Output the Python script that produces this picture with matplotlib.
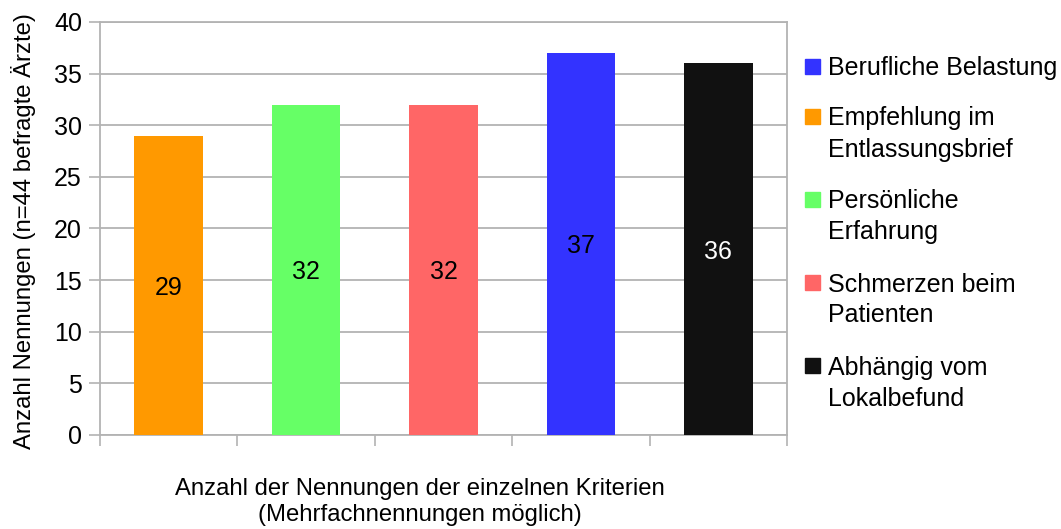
import numpy as np
import matplotlib.pyplot as plt
from matplotlib.patches import Rectangle

plt.rcParams['font.family'] = ['Liberation Sans', 'DejaVu Sans']

# Kriterien (Reihenfolge der Balken) und Anzahl der Nennungen
kriterien = ['Empfehlung im\nEntlassungsbrief', 'Persönliche\nErfahrung',
             'Schmerzen beim\nPatienten', 'Berufliche Belastung',
             'Abhängig vom\nLokalbefund']
nennungen = [29, 32, 32, 37, 36]
farben = ['#ff9900', '#66ff66', '#ff6666', '#3333ff', '#111111']
text_farben = ['black', 'black', 'black', 'black', 'white']

# Reihenfolge in der Legende
legenden_reihenfolge = [3, 0, 1, 2, 4]

y_ticks = [0, 5, 10, 15, 20, 25, 30, 35, 40]

W, H = 1061, 529
fs = 18
fs_label = 17.2
grau = '#b3b3b3'

fig = plt.figure(figsize=(W / 100, H / 100), dpi=100)
ax = fig.add_axes([100 / W, 1 - 435 / H, 687 / W, 413 / H])

x = np.arange(len(nennungen))
bars = ax.bar(x, nennungen, width=0.5, color=farben, zorder=3)

for b, v, tc in zip(bars, nennungen, text_farben):
    ax.text(b.get_x() + b.get_width() / 2, v / 2, str(v), ha='center',
            va='center_baseline', fontsize=fs, color=tc, zorder=4)

ax.set_xlim(-0.5, len(nennungen) - 0.5)
ax.set_ylim(0, 40)
ax.set_yticks(y_ticks)
ax.set_xticks(np.arange(len(nennungen) + 1) - 0.5)
ax.set_xticklabels([])
ax.tick_params(axis='y', labelsize=fs, length=8, width=1.2, color=grau, pad=5)
ax.tick_params(axis='x', length=8, width=1.2, color=grau)
ax.yaxis.grid(True, color=grau, linewidth=1.3, zorder=0)
for s in ax.spines.values():
    s.set_color(grau)
    s.set_linewidth(1.3)

fig.text(24 / W, 1 - 231 / H, 'Anzahl Nennungen (n=44 befragte Ärzte)',
         rotation=90, ha='center', va='center', fontsize=fs_label)
fig.text(420 / W, 1 - 502 / H,
         'Anzahl der Nennungen der einzelnen Kriterien\n(Mehrfachnennungen möglich)',
         ha='center', va='center', fontsize=fs_label, linespacing=1.25)

# Legende von Hand: Quadrat oben bündig mit der ersten Zeile
y = 75.5
for i in legenden_reihenfolge:
    zeilen = kriterien[i].split('\n')
    fig.patches.append(Rectangle((805 / W, 1 - (y - 1.5) / H), 15 / W, 15 / H,
                                 transform=fig.transFigure, color=farben[i]))
    for k, z in enumerate(zeilen):
        fig.text(828 / W, 1 - (y + k * 31) / H, z, ha='left', va='baseline',
                 fontsize=fs)
    y += 50 + (len(zeilen) - 1) * 33

fig.savefig('out.png', dpi=100)
